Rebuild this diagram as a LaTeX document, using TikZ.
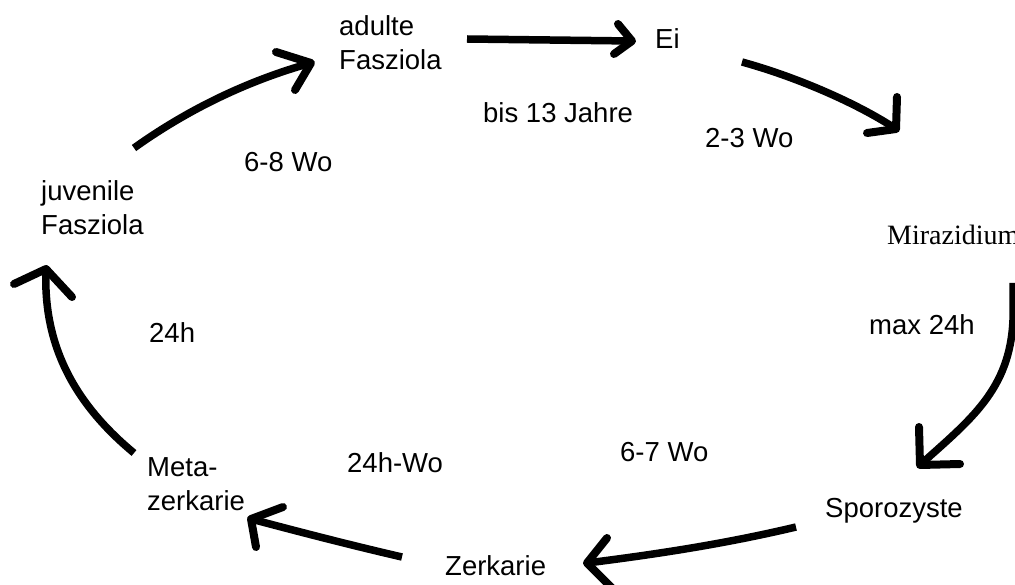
\documentclass[tikz,border=0pt]{standalone}
\usepackage{fontspec}
\setmainfont{Liberation Sans}
\newfontfamily\serifface{Liberation Serif}
\begin{document}
\begin{tikzpicture}[x=1pt,y=-1pt,
  lbl/.style={inner sep=0pt, anchor=base west, align=left,
              font=\fontsize{27.5}{34}\selectfont},
  stroke/.style={line width=7.5pt, line join=round, line cap=butt},
  barb/.style={line width=8pt, line join=round, line cap=round}]
\useasboundingbox[fill=white] (0,0) rectangle (1015,585);
\clip (0,0) rectangle (1015,585);

% stages of the life cycle (multi-line nodes sit on their last baseline)
\node[lbl] (adult) at (339,70)  {adulte\\Fasziola};
\node[lbl] (ei)    at (655,49)  {Ei};
\node[lbl, font=\fontsize{28}{34}\serifface] (mira) at (887,245) {Mirazidium};
\node[lbl] (sporo) at (825,517) {Sporozyste};
\node[lbl] (zerk)  at (445,575) {Zerkarie};
\node[lbl] (meta)  at (147,510) {Meta-\\zerkarie};
\node[lbl] (juv)   at (41,235)  {juvenile\\Fasziola};

% durations
\node[lbl] (d1) at (483,123) {bis 13 Jahre};
\node[lbl] (d2) at (705,148) {2-3 Wo};
\node[lbl] (d3) at (869,335) {max 24h};
\node[lbl] (d4) at (620,461) {6-7 Wo};
\node[lbl] (d5) at (347,472) {24h-Wo};
\node[lbl] (d6) at (149,343) {24h};
\node[lbl] (d7) at (244,172) {6-8 Wo};

% connector end points
\coordinate (a1s) at (467,39);  \coordinate (a1t) at (632,41);
\coordinate (a2s) at (742,62);  \coordinate (a2t) at (896,129);
\coordinate (a3s) at (1013,283); \coordinate (a3t) at (920,465);
\coordinate (a4s) at (796,527); \coordinate (a4t) at (587,563);
\coordinate (a5s) at (402,557); \coordinate (a5t) at (251,519);
\coordinate (a6s) at (134,453); \coordinate (a6t) at (46,269);
\coordinate (a7s) at (134,148); \coordinate (a7t) at (311,63);

% adulte Fasziola -> Ei
\draw[stroke] (a1s) -- (a1t);
\draw[barb] (618,24) -- (a1t) -- (614,54);

% Ei -> Mirazidium
\draw[stroke] (a2s) .. controls (800,78) and (860,105) .. (a2t);
\draw[barb] (897,97) -- (a2t) -- (867,133);

% Mirazidium -> Sporozyste
\draw[stroke] (a3s) -- (1013,320) .. controls (1010,390) and (970,420) .. (a3t);
\draw[barb] (919,427) -- (a3t) -- (960,464);

% Sporozyste -> Zerkarie
\draw[stroke] (a4s) .. controls (720,545) and (650,555) .. (a4t);
\draw[barb] (607,538) -- (a4t) -- (614,590);

% Zerkarie -> Metazerkarie
\draw[stroke] (a5s) .. controls (350,545) and (300,532) .. (a5t);
\draw[barb] (283,507) -- (a5t) -- (256,547);

% Metazerkarie -> juvenile Fasziola
\draw[stroke] (a6s) .. controls (70,400) and (43,340) .. (a6t);
\draw[barb] (14,284) -- (a6t) -- (72,297);

% juvenile Fasziola -> adulte Fasziola
\draw[stroke] (a7s) .. controls (190,108) and (250,80) .. (a7t);
\draw[barb] (276,52) -- (a7t) -- (295,90);
\end{tikzpicture}
\end{document}
